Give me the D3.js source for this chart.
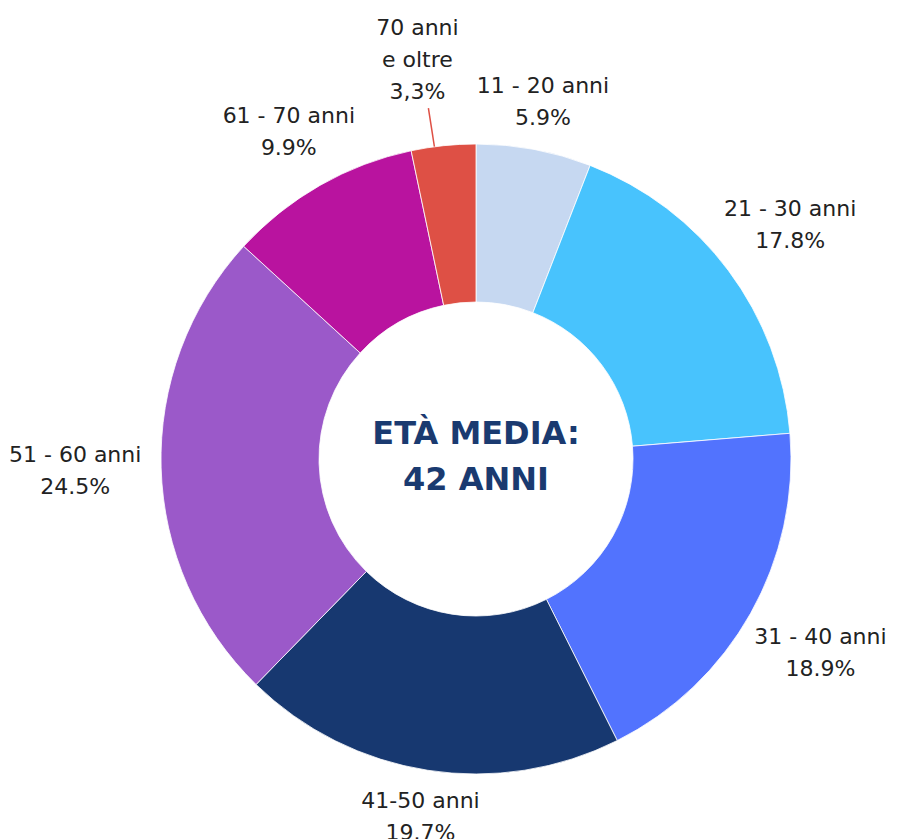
<!DOCTYPE html>
<html>
<head>
<meta charset="utf-8">
<script src="https://cdn.jsdelivr.net/npm/d3@7"></script>
<style>
  body { margin: 0; background: #fff; }
  text { font-family: "DejaVu Sans", "Open Sans", sans-serif; }
</style>
</head>
<body>
<script>
// age groups and share (%)
var groups = ["11 - 20 anni", "21 - 30 anni", "31 - 40 anni", "41-50 anni", "51 - 60 anni", "61 - 70 anni", "70 anni e oltre"];
var labelLines = [["11 - 20 anni"], ["21 - 30 anni"], ["31 - 40 anni"], ["41-50 anni"], ["51 - 60 anni"], ["61 - 70 anni"], ["70 anni", "e oltre"]];
var values = [5.9, 17.8, 18.9, 19.7, 24.5, 9.9, 3.3];
var valueLabels = ["5.9%", "17.8%", "18.9%", "19.7%", "24.5%", "9.9%", "3,3%"];
var colors = ["#c6d8f1", "#48c3fd", "#5273fe", "#173870", "#9b59c9", "#b9139f", "#de5045"];
var centerText = ["ETÀ MEDIA:", "42 ANNI"];

document.addEventListener("DOMContentLoaded", function () {
    var width = 898, height = 839;
    var cx = 476, cy = 459;
    var outerR = 315, innerR = 157;

    var svg = d3.select("body").append("svg")
      .attr("width", width)
      .attr("height", height);

    var g = svg.append("g").attr("transform", "translate(" + cx + "," + cy + ")");

    var pie = d3.pie().sort(null).value(function (d) { return d; });
    var arcs = pie(values);
    var arc = d3.arc().innerRadius(innerR).outerRadius(outerR);

    g.selectAll("path.slice")
      .data(arcs)
      .enter().append("path")
      .attr("class", "slice")
      .attr("d", arc)
      .attr("fill", function (d, i) { return colors[i]; })
      .attr("stroke", "#fff")
      .attr("stroke-width", 0.8);

    var lineH = 32;
    arcs.forEach(function (d, i) {
        var a = (d.startAngle + d.endAngle) / 2;
        var s = Math.sin(a), c = -Math.cos(a);
        var small = values[i] < 4;
        var r = small ? outerR + 87 : outerR + 40 + Math.abs(s) * 46;
        var lx = r * s - (small ? 17 : 0), ly = r * c;
        var lines = labelLines[i].concat([valueLabels[i]]);
        var top = ly - (lines.length - 1) * lineH / 2;
        if (small) {
            // leader line from the slice to the label
            g.append("line")
              .attr("x1", outerR * s - 9)
              .attr("y1", outerR * c + 1)
              .attr("x2", lx + 11)
              .attr("y2", top + (lines.length - 1) * lineH + 17)
              .attr("stroke", colors[i])
              .attr("stroke-width", 1.5);
        }
        var t = g.append("text")
          .attr("text-anchor", "middle")
          .attr("font-size", 22)
          .attr("fill", "#222");
        lines.forEach(function (ln, j) {
            t.append("tspan")
              .attr("x", lx)
              .attr("y", top + j * lineH)
              .attr("dy", "0.35em")
              .text(ln);
        });
    });

    var ct = g.append("text")
      .attr("text-anchor", "middle")
      .attr("font-size", 32)
      .attr("font-weight", "bold")
      .attr("fill", "#1a3a70");
    centerText.forEach(function (ln, j) {
        ct.append("tspan")
          .attr("x", 0)
          .attr("y", -26 + j * 46)
          .attr("dy", "0.35em")
          .text(ln);
    });
});
</script>
</body>
</html>
